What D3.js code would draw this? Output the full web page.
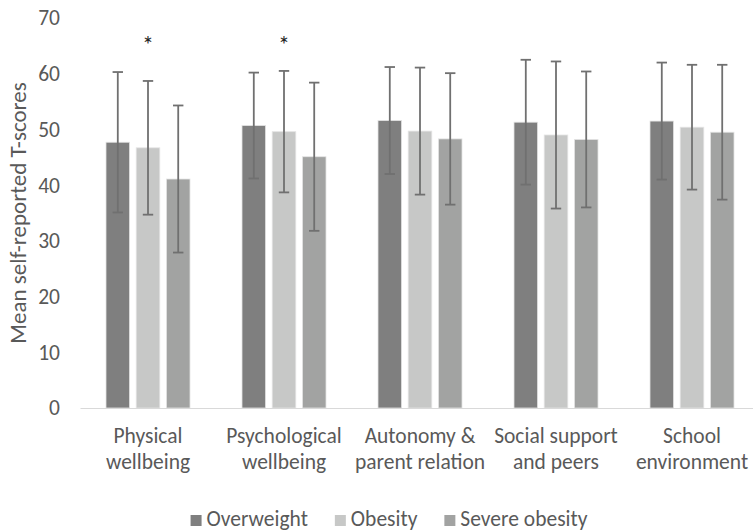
<!DOCTYPE html>
<html>
<head>
<meta charset="utf-8">
<script src="https://cdn.jsdelivr.net/npm/d3@7"></script>
<style>
  html, body { margin: 0; padding: 0; background: #ffffff; }
  svg { display: block; font-family: Carlito, Calibri, Lato, "Open Sans", sans-serif; }
</style>
</head>
<body>
<svg id="chart" width="753" height="532"></svg>
<script>
// Questionnaire domains, shown as two-line labels
const categories = [
  ["Physical", "wellbeing"],
  ["Psychological", "wellbeing"],
  ["Autonomy &", "parent relation"],
  ["Social support", "and peers"],
  ["School", "environment"]
];
const seriesNames = ["Overweight", "Obesity", "Severe obesity"];
const seriesColors = ["#7f7f7f", "#c7c8c7", "#a2a3a2"];

// Mean T-scores per weight group
const overweightMean = [47.7, 50.7, 51.6, 51.3, 51.5];
const obesityMean    = [46.7, 49.6, 49.7, 49.0, 50.4];
const severeMean     = [41.1, 45.1, 48.3, 48.2, 49.5];

// Standard deviations (error bars)
const overweightSD = [12.6, 9.5, 9.6, 11.2, 10.5];
const obesitySD    = [12.0, 10.9, 11.4, 13.2, 11.2];
const severeSD     = [13.2, 13.3, 11.8, 12.2, 12.1];

// Significance markers drawn above the Obesity bars
const significance = ["*", "*", "", "", ""];

const yTicks = [0, 10, 20, 30, 40, 50, 60, 70];

const means = [overweightMean, obesityMean, severeMean];
const sds = [overweightSD, obesitySD, severeSD];

const svg = d3.select("#chart");
const textColor = "#595959";
const fontFamily = "Carlito, Calibri, Lato, sans-serif";
const fontSize = 21.5;
const titleSize = 23;

const y = d3.scaleLinear().domain([0, 70]).range([408, 18]);
const catKeys = categories.map(c => c.join(" "));
const x0 = d3.scaleBand().domain(catKeys).range([80, 760]).paddingInner(0).paddingOuter(0);
const x1 = d3.scaleBand().domain(seriesNames).range([26, 110]).paddingInner(0.22).paddingOuter(0);

// Y axis tick labels (no axis line, no gridlines)
const yAxis = d3.axisLeft(y).tickValues(yTicks).tickSize(0).tickPadding(0);
const yg = svg.append("g")
  .attr("transform", "translate(60,0)")
  .call(yAxis)
  .attr("font-size", fontSize)
  .attr("font-family", fontFamily);
yg.select(".domain").remove();
yg.selectAll("text").attr("fill", textColor);

// Y axis title
svg.append("text")
  .attr("transform", `translate(26,${(y(0) + y(70)) / 2}) rotate(-90)`)
  .attr("text-anchor", "middle")
  .attr("fill", textColor)
  .style("font-size", titleSize + "px")
  .text("Mean self-reported T-scores");

// Bars
const rows = [];
catKeys.forEach((c, i) => {
  seriesNames.forEach((s, j) => {
    rows.push({ cat: c, series: s, j, mean: means[j][i], sd: sds[j][i] });
  });
});

svg.append("g").selectAll("rect")
  .data(rows)
  .join("rect")
  .attr("x", d => x0(d.cat) + x1(d.series))
  .attr("y", d => y(d.mean))
  .attr("width", x1.bandwidth())
  .attr("height", d => y(0) - y(d.mean))
  .attr("fill", d => seriesColors[d.j])
  .attr("stroke", "#e4e4e4")
  .attr("stroke-width", 0.8);

// Bottom axis line
const xAxis = d3.axisBottom(x0).tickSize(0).tickFormat("");
const xg = svg.append("g").attr("transform", `translate(0,${y(0)})`).call(xAxis);
xg.select(".domain").attr("stroke", "#d9d9d9").attr("stroke-width", 1.2);
xg.selectAll(".tick").remove();

// Error bars (mean ± SD)
const errG = svg.append("g").attr("stroke", "#707070").attr("stroke-width", 1.8).attr("fill", "none");
const capHalf = 5.2;
rows.forEach(d => {
  const cx = x0(d.cat) + x1(d.series) + x1.bandwidth() / 2;
  const top = y(d.mean + d.sd), bot = y(d.mean - d.sd);
  errG.append("line").attr("x1", cx).attr("x2", cx).attr("y1", top).attr("y2", bot);
  errG.append("line").attr("x1", cx - capHalf).attr("x2", cx + capHalf).attr("y1", top).attr("y2", top);
  errG.append("line").attr("x1", cx - capHalf).attr("x2", cx + capHalf).attr("y1", bot).attr("y2", bot);
});

// Significance asterisks
const markerLevel = 66;
svg.append("g").selectAll("text")
  .data(significance.map((m, i) => ({ m, cat: catKeys[i] })).filter(d => d.m))
  .join("text")
  .attr("x", d => x0(d.cat) + x1("Obesity") + x1.bandwidth() / 2)
  .attr("y", y(markerLevel) + 12.5)
  .attr("text-anchor", "middle")
  .attr("fill", "#262626")
  .style("font-size", "24px")
  .text(d => d.m);

// Category labels, two lines each
const labG = svg.append("g");
categories.forEach((lines, i) => {
  const cx = x0(catKeys[i]) + x0.bandwidth() / 2;
  const t = labG.append("text")
    .attr("text-anchor", "middle")
    .attr("fill", textColor)
    .style("font-size", fontSize + "px");
  lines.forEach((ln, k) => {
    t.append("tspan").attr("x", cx).attr("y", 443 + k * 25.5).text(ln);
  });
});

// Legend
const legend = svg.append("g");
const sq = 11, gapText = 5, gapItem = 27;
let lx = 0;
seriesNames.forEach((s, j) => {
  const g = legend.append("g");
  g.append("rect").attr("x", 0).attr("y", -sq).attr("width", sq).attr("height", sq).attr("fill", seriesColors[j]);
  const tx = g.append("text").attr("x", sq + gapText).attr("y", 0)
    .attr("fill", textColor).style("font-size", fontSize + "px").text(s);
  const w = sq + gapText + tx.node().getComputedTextLength();
  g.attr("transform", `translate(${lx},0)`);
  lx += w + gapItem;
});
const totalW = lx - gapItem;
legend.attr("transform", `translate(${389 - totalW / 2},526)`);
</script>
</body>
</html>
